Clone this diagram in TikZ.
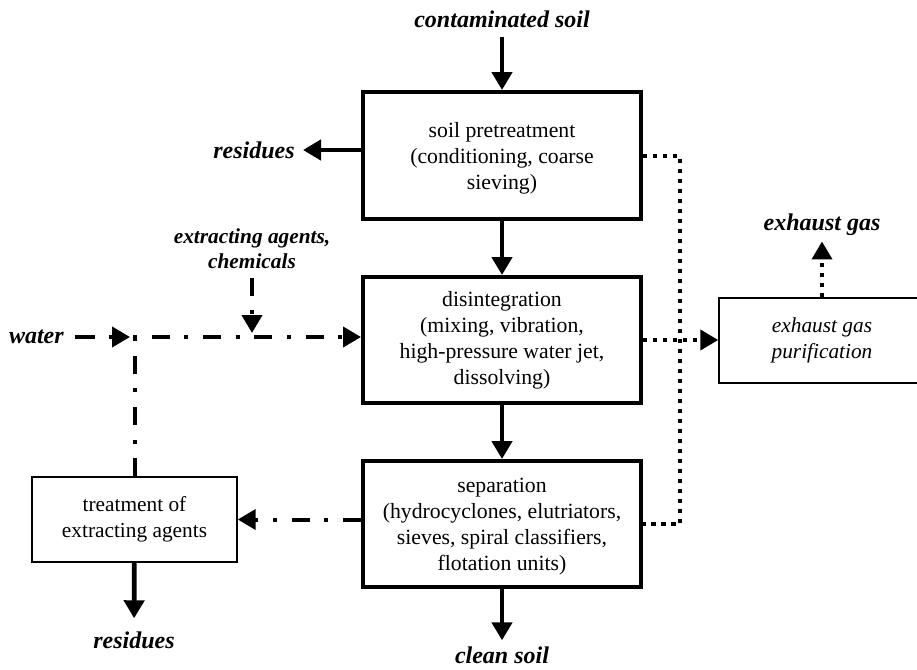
\documentclass[tikz,border=0pt]{standalone}
\usepackage{fontspec}
\setmainfont{Liberation Serif}
\usetikzlibrary{arrows.meta,calc}
\begin{document}
\begin{tikzpicture}[x=0.75pt,y=-0.75pt,
  procbox/.style={draw,line width=3pt,align=center,inner sep=0pt,font=\fontsize{16.3}{19.5}\selectfont},
  proctext/.style={align=center,inner sep=0pt,font=\fontsize{16.3}{19.5}\selectfont},
  thinbox/.style={draw,line width=1.1pt,align=center,inner sep=0pt},
  lbl/.style={inner sep=0pt,font=\fontsize{18}{21}\selectfont\bfseries\itshape,align=center},
  tip/.style={-{Triangle[length=13.5pt,width=15pt]}},
  flow/.style={tip,line width=3.5pt},
  dotline/.style={line width=3pt,dash pattern=on 3.2pt off 4.3pt},
  dashdot/.style={line width=3pt,dash pattern=on 3pt off 11pt on 13.5pt off 11pt},
  dashdotb/.style={line width=3pt,dash pattern=on 13.5pt off 11pt on 3pt off 11pt},
]
\useasboundingbox (0,0) rectangle (917,669);

% process boxes
\node[procbox,minimum width=208.5pt,minimum height=95.25pt] (pre) at (502,155.5) {};
\node[proctext] (pretxt) at (502,158) {soil pretreatment\\(conditioning, coarse\\sieving)};
\node[procbox,minimum width=208.5pt,minimum height=94.5pt] (dis) at (502,340)
  {disintegration\\(mixing, vibration,\\high-pressure water jet,\\dissolving)};
\node[procbox,minimum width=208.5pt,minimum height=94.5pt] (sep) at (502,524) {};
\node[proctext] (septxt) at (502,527) {separation\\(hydrocyclones, elutriators,\\sieves, spiral classifiers,\\flotation units)};
\node[thinbox,minimum width=154.5pt,minimum height=63.75pt,font=\fontsize{16}{19.5}\selectfont\itshape] (ex) at (822,340.5)
  {exhaust gas\\purification};
\node[thinbox,minimum width=153.75pt,minimum height=63.75pt,font=\fontsize{16}{19.5}\selectfont] (trt) at (134.5,519.5)
  {treatment of\\extracting agents};

% labels
\node[lbl] (cs) at (502,19) {contaminated soil};
\node[lbl,anchor=east] (res1) at (295,150) {residues};
\node[lbl] (res2) at (134,640) {residues};
\node[lbl] (cls) at (502,655) {clean soil};
\node[lbl] (eg) at (822,225) {exhaust gas};
\node[lbl,anchor=east] (wat) at (64,337) {water};
\node[lbl,font=\fontsize{16}{18.75}\selectfont\bfseries\itshape] (ea) at (252,248.5) {extracting agents,\\chemicals};

\coordinate (j1) at (133,337);
\coordinate (j2) at (252,337);
\coordinate (bus) at (680,340);

% solid flows
\draw[flow,shorten <=6.75pt] (cs) -- (pre);
\draw[flow,shorten >=6pt] (pre.west |- res1) -- (res1.east);
\draw[flow] (pre) -- (dis);
\draw[flow] (dis) -- (sep);
\draw[flow,shorten >=4.5pt] (sep) -- (cls);
\draw[flow,shorten >=9.75pt] (trt) -- (res2);

% water / extracting agents circuit
\draw[tip,line width=3pt,dash pattern=on 15pt off 11pt,shorten <=8pt,shorten >=2.25pt] (wat.east) -- (j1);
\draw[tip,dashdot] (j1) -- (j1 -| dis.west);
\draw[dashdotb] (trt.north) -- (trt.north |- j1);
\draw[tip,dashdotb,shorten <=6.75pt,shorten >=3pt] (ea.south) -- (j2);
\draw[tip,dashdotb] (sep.west |- trt.east) -- (trt.east);

% exhaust gas
\draw[dotline] (pre.east) -| (bus) |- (sep.east);
\draw[tip,dotline] (dis.east) -- (dis.east -| ex.west);
\draw[tip,dotline,shorten >=4pt] (ex) -- (eg);
\end{tikzpicture}
\end{document}
